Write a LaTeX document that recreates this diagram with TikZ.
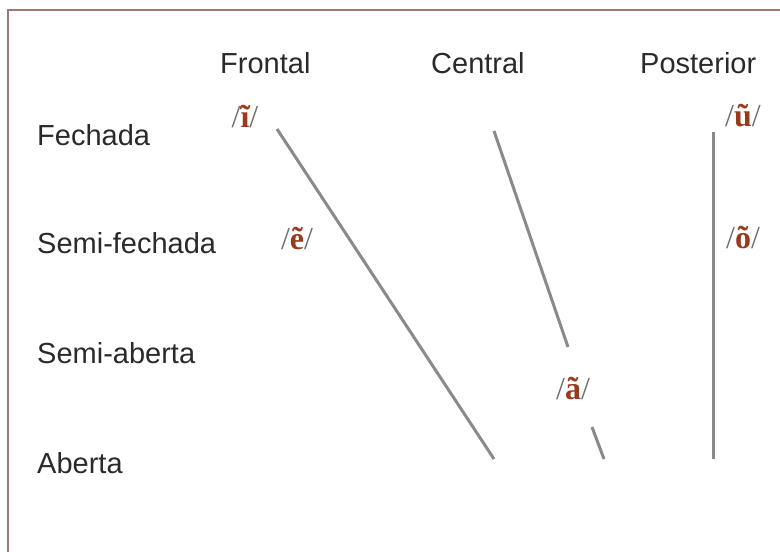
\documentclass[tikz,border=0pt]{standalone}
\usepackage{fontspec}
\setmainfont{Liberation Sans}
\newfontfamily\ipafont{Liberation Serif}
\definecolor{framec}{HTML}{9A7A74}
\definecolor{linec}{HTML}{8A8A8A}
\definecolor{slashc}{HTML}{6E6E6E}
\definecolor{phc}{HTML}{9A3A1C}
\definecolor{txtc}{HTML}{2A2A2A}
\newcommand{\phon}[1]{{\color{slashc}/}{\color{phc}\bfseries #1}{\color{slashc}/}}
\begin{document}
\begin{tikzpicture}[x=1pt,y=-1pt,
  lbl/.style={font=\fontsize{29}{34}\selectfont, text=txtc, inner sep=0pt, anchor=base west},
  ph/.style={font=\ipafont\fontsize{32}{38}\selectfont, inner sep=0pt, anchor=center},
  vline/.style={draw=linec, line width=3pt}]
\useasboundingbox (0,0) rectangle (780,552);
\fill[white] (0,0) rectangle (780,552);
% frame
\draw[draw=framec, line width=2.5pt] (8,552) -- (8,10) -- (780,10);
% column headers
\node[lbl] (hf) at (220,73) {Frontal};
\node[lbl] (hc) at (431,73) {Central};
\node[lbl] (hp) at (640,73) {Posterior};
% row labels
\node[lbl] (r1) at (37,145) {Fechada};
\node[lbl] (r2) at (37,253) {Semi-fechada};
\node[lbl] (r3) at (37,363) {Semi-aberta};
\node[lbl] (r4) at (37,473) {Aberta};
% phonemes
\node[ph] (pi) at (245,117) {\phon{ĩ}};
\node[ph] (pe) at (297,239) {\phon{ẽ}};
\node[ph] (pa) at (573,389) {\phon{ã}};
\node[ph] (pu) at (743,116) {\phon{ũ}};
\node[ph] (po) at (743,238) {\phon{õ}};
% line end points
\coordinate (a1) at (277,129);
\coordinate (a2) at (494,459);
\coordinate (b1) at (494,131);
\coordinate (b2) at (568,347);
\coordinate (c1) at (592,427);
\coordinate (c2) at (604,459);
\coordinate (d1) at (713,132);
\coordinate (d2) at (713,459);
\draw[vline] (a1) -- (a2);
\draw[vline] (b1) -- (b2);
\draw[vline] (c1) -- (c2);
\draw[vline] (d1) -- (d2);
\end{tikzpicture}
\end{document}
